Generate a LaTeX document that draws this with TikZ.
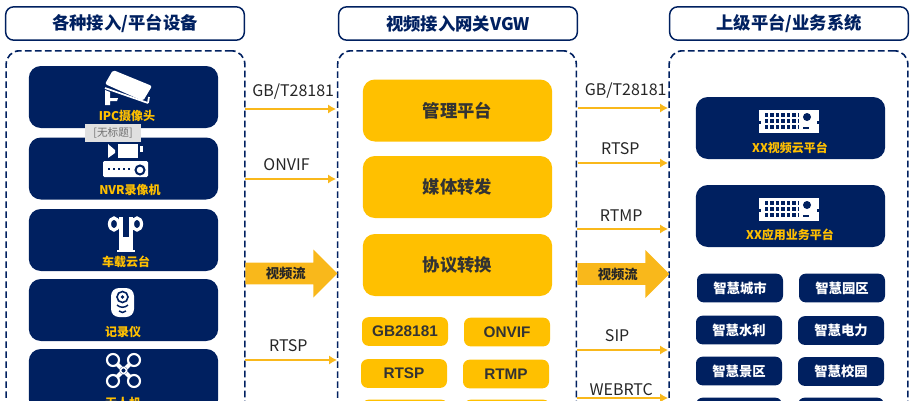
\documentclass[tikz,border=0pt]{standalone}
\usepackage{fontspec}
\setmainfont{Noto Sans CJK SC}
\newfontfamily\latinfont{Liberation Sans}
\usetikzlibrary{positioning}
\usetikzlibrary{arrows.meta}
\usetikzlibrary{shapes.arrows}
\definecolor{navy}{HTML}{002060}
\definecolor{gold}{HTML}{FFC000}
\definecolor{linegold}{HTML}{F9B81B}
\definecolor{tiptext}{HTML}{707070}
\newcommand{\servericon}[2]{
	\begin{scope}[shift={(#1,#2)}]
		\fill [white] (-30,-12) rectangle (30,11);
		\fill [navy] (-30,-1) rectangle (-28,2);
		\fill [navy] (28,-1) rectangle (30,2);
		\draw [navy,line width=2.6pt,dash pattern=on 2.6pt off 1.5pt] (-24,-7) -- (10,-7);
		\draw [navy,line width=2.6pt,dash pattern=on 2.6pt off 1.5pt] (-24,-1) -- (10,-1);
		\draw [navy,line width=2.6pt,dash pattern=on 2.6pt off 1.5pt] (-24,5) -- (10,5);
		\fill [navy] (18,-5) circle (4);
		\fill [navy] (14,5) rectangle (20,7);
	\end{scope}}
\begin{document}
\begin{tikzpicture}
	[x=0.75pt,y=-0.75pt,>={Latex[length=6pt,width=7pt]},
	titlebox/.style={rectangle,draw=navy,line width=1.1pt,rounded corners=6pt,minimum width=179pt,minimum height=25pt,inner sep=0pt,text=navy,font=\fontsize{13}{15}\selectfont\bfseries},
	groupbox/.style={rectangle,draw=navy,line width=1.2pt,dash pattern=on 5pt off 2.5pt,rounded corners=10pt,minimum width=179pt,minimum height=300pt,inner sep=0pt,anchor=north},
	devbox/.style={rectangle,fill=navy,rounded corners=9pt,minimum width=142pt,minimum height=46.5pt,inner sep=0pt},
	devtext/.style={inner sep=0pt,text=gold,font=\fontsize{9}{10}\selectfont\bfseries},
	funcbox/.style={rectangle,fill=gold,rounded corners=9pt,minimum width=142pt,minimum height=46.5pt,inner sep=0pt,font=\fontsize{13}{15}\selectfont\bfseries,text=black!80},
	protobox/.style={rectangle,fill=gold,rounded corners=5pt,minimum width=64.5pt,minimum height=21.5pt,inner sep=0pt,font=\fontsize{11.5}{13}\latinfont\bfseries,text=black!80},
	appbox/.style={rectangle,fill=navy,rounded corners=5pt,minimum width=64.5pt,minimum height=21.5pt,inner sep=0pt,font=\fontsize{10}{12}\selectfont\bfseries,text=white},
	flow/.style={->,draw=linegold,line width=2pt},
	flowtext/.style={text=black!85,font=\fontsize{12}{14}\selectfont,inner sep=0pt},
	bigflow/.style={single arrow,fill=linegold,single arrow head extend=6pt,single arrow tip angle=90,minimum width=36pt,minimum height=69pt,inner sep=0pt,font=\fontsize{10}{12}\selectfont\bfseries,text=black!85,anchor=tail}]
	\path [use as bounding box,clip] (0,0) rectangle (914,400);
	% titles
	\node at (125,23.5) [titlebox] (titleLeft) {各种接入/平台设备};
	\node at (458,23.5) [titlebox] (titleMid) {视频接入网关VGW};
	\node at (789,23.5) [titlebox] (titleRight) {上级平台/业务系统};
	\node at (125.5,50) [groupbox] (groupLeft) {};
	\node at (457,50) [groupbox] (groupMid) {};
	\node at (788.5,50) [groupbox] (groupRight) {};
	% devices
	\node at (123.5,97) [devbox] (ipc) {};
	\node at (123.5,168.5) [devbox] (nvr) {};
	\node at (123.5,240) [devbox] (gimbal) {};
	\node at (123.5,310) [devbox] (recorder) {};
	\node at (123.5,380) [devbox] (drone) {};
	\node at (127,116) [devtext] (ipcText) {IPC摄像头};
	\node at (130,189.5) [devtext] (nvrText) {NVR录像机};
	\node at (126,262) [devtext] (gimbalText) {车载云台};
	\node at (123,332) [devtext] (recorderText) {记录仪};
	\node at (123,403) [devtext] (droneText) {无人机};
	% camera icon
	\fill [white,rounded corners=1.5pt] (113,70) -- (152,86) -- (143,101) -- (105,84) -- cycle;
	\draw [white,line width=1.3pt] (105,88) -- (148,103);
	\draw [white,line width=1.3pt] (148,103) -- (149,97);
	\fill [white] (105,90) -- (110,92) -- (110,98) -- (118,98) -- (117,101) -- (110,101) -- (110,105) -- (105,105) -- cycle;
	% nvr icon
	\fill [white] (108,144) -- (115,150) -- (115,153) -- (108,158) -- cycle;
	\fill [white] (118,144) rectangle (138,158);
	\fill [white] (140,146) rectangle (143,152);
	\fill [white,rounded corners=1pt] (103,161) rectangle (148,177);
	\draw [navy,line width=1.5pt,dash pattern=on 1.5pt off 2.3pt] (108,169) -- (130,169);
	\draw [navy,line width=1.5pt] (140,170) circle (4.5);
	% gimbal icon
	\draw [white,line width=2.4pt] (114,224) ellipse (4.5 and 6);
	\draw [white,line width=2.4pt] (137,224) ellipse (4.5 and 6);
	\draw [white,line width=2.6pt] (121,217) -- (121,237);
	\draw [white,line width=2.6pt] (131,217) -- (131,237);
	\fill [white] (119,237) rectangle (133,250);
	\fill [white] (117,250) rectangle (135,252);
	% recorder icon
	\fill [white,rounded corners=6pt] (111,288) rectangle (134,317);
	\draw [navy,line width=1.2pt] (122.5,297) circle (5.5);
	\fill [navy] (122.5,297) circle (1.8);
	\draw [navy,line width=1.1pt] (117,305) .. controls (120,308) and (125,308) .. (128,305);
	\draw [navy,line width=1.1pt] (119,311) .. controls (121,313) and (124,313) .. (126,311);
	% drone icon
	\draw [white,line width=3pt] (113,360) -- (134,381);
	\draw [white,line width=3pt] (134,360) -- (113,381);
	\fill [navy] (123.5,370.5) circle (4);
	\draw [white,line width=1.2pt] (123.5,370.5) circle (3);
	\draw [white,line width=1.6pt,fill=navy] (113,360) circle (6);
	\draw [white,line width=1.6pt,fill=navy] (134,360) circle (6);
	\draw [white,line width=1.6pt,fill=navy] (113,381) circle (6);
	\draw [white,line width=1.6pt,fill=navy] (134,381) circle (6);
	\node at (113,133) [rectangle,fill=black!12,minimum width=42pt,minimum height=13.5pt,inner sep=0pt,text=tiptext,font=\fontsize{8}{10}\selectfont] (untitled) {[无标题]};
	% gateway
	\node at (457.5,110.5) [funcbox] (manage) {管理平台};
	\node at (457.5,187) [funcbox] (media) {媒体转发};
	\node at (457.5,265) [funcbox] (convert) {协议转换};
	\node at (405,331.5) [protobox] (gb) {GB28181};
	\node at (507,332) [protobox] (onvif) {ONVIF};
	\node at (404,373.5) [protobox] (rtsp) {RTSP};
	\node at (506,374) [protobox] (rtmp) {RTMP};
	\node at (405,414) [protobox] (extraA) {};
	\node at (507,414) [protobox] (extraB) {};
	% upper platforms
	\node at (790.5,128) [devbox] (cloud) {};
	\node at (790.5,216) [devbox] (app) {};
	\node at (790,148) [devtext] (cloudText) {XX视频云平台};
	\node at (790,235) [devtext] (appText) {XX应用业务平台};
	\servericon{789}{122}
	\servericon{789}{210}
	\node at (740,288) [appbox] (city) {智慧城市};
	\node at (842,288) [appbox] (park) {智慧园区};
	\node at (739,330) [appbox] (water) {智慧水利};
	\node at (841,330.5) [appbox] (power) {智慧电力};
	\node at (739,371) [appbox] (scenic) {智慧景区};
	\node at (841,371.5) [appbox] (campus) {智慧校园};
	\node at (739,412) [appbox] (extraC) {};
	\node at (841,412) [appbox] (extraD) {};
	% connectors
	\coordinate (outGb) at (245,109);
	\coordinate (inGb) at (336,109);
	\coordinate (outOnvif) at (245,179);
	\coordinate (inOnvif) at (336,179);
	\coordinate (outRtsp) at (245,360);
	\coordinate (inRtsp) at (337,360);
	\coordinate (upGb) at (578,108);
	\coordinate (topGb) at (668,108);
	\coordinate (upRtsp) at (578,163);
	\coordinate (topRtsp) at (668,163);
	\coordinate (upRtmp) at (577,229);
	\coordinate (topRtmp) at (668,229);
	\coordinate (upSip) at (577,350);
	\coordinate (topSip) at (668,350);
	\coordinate (upWeb) at (577,398);
	\coordinate (topWeb) at (668,398);
	\draw [flow] (outGb) -- (inGb) node [flowtext,midway,above=6pt,xshift=2pt] {GB/T28181};
	\draw [flow] (outOnvif) -- (inOnvif) node [flowtext,midway,above=5pt,xshift=-3pt] {ONVIF};
	\draw [flow] (outRtsp) -- (inRtsp) node [flowtext,midway,above=5pt,xshift=-2pt] {RTSP};
	\draw [flow] (upGb) -- (topGb) node [flowtext,midway,above=6pt,xshift=2pt] {GB/T28181};
	\draw [flow] (upRtsp) -- (topRtsp) node [flowtext,midway,above=5pt,xshift=-2pt] {RTSP};
	\draw [flow] (upRtmp) -- (topRtmp) node [flowtext,midway,above=5pt,xshift=-1pt] {RTMP};
	\draw [flow] (upSip) -- (topSip) node [flowtext,midway,above=5pt,xshift=-4pt] {SIP};
	\draw [flow] (upWeb) -- (topWeb) node [flowtext,midway,above=1pt,xshift=-1pt] {WEBRTC};
	\node at (245,273.5) [bigflow] (streamIn) {视频流\hspace{14pt}};
	\node at (577,274) [bigflow] (streamOut) {视频流\hspace{14pt}};
\end{tikzpicture}
\end{document}
